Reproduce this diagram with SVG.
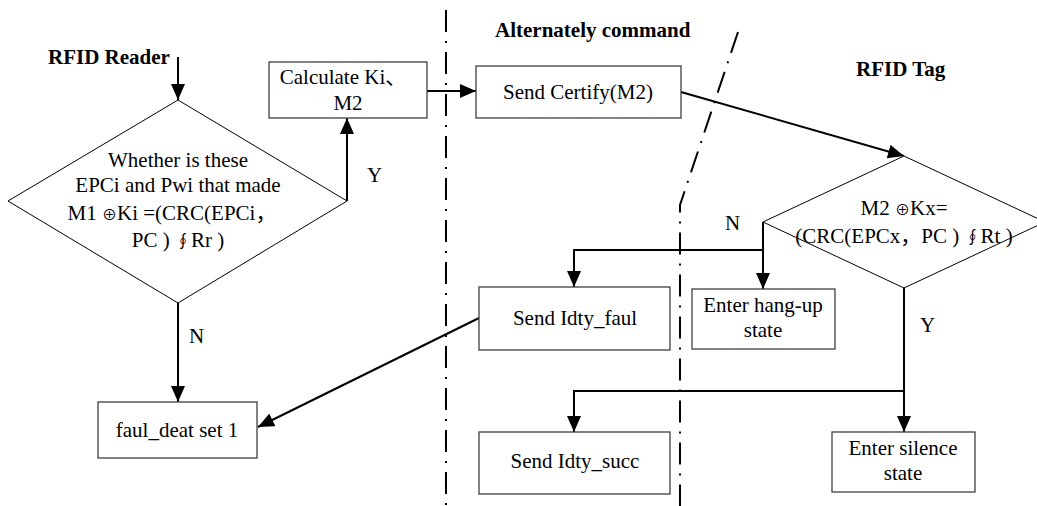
<svg xmlns="http://www.w3.org/2000/svg" width="1037" height="506" viewBox="0 0 1037 506">
<style>
text{font-family:"Liberation Serif","Noto Sans CJK SC",serif;font-size:21px;fill:#000}
.b{font-weight:bold}
.m{text-anchor:middle}
.box{fill:#fff;stroke:#404040;stroke-width:1.3}
.dia{fill:#fff;stroke:#000;stroke-width:1}
.c{fill:none;stroke:#000;stroke-width:2}
.sep{fill:none;stroke:#000;stroke-width:2;stroke-dasharray:22 9 2 9}
</style>
<defs>
<marker id="arr" markerWidth="16" markerHeight="14" refX="16" refY="7" orient="auto" markerUnits="userSpaceOnUse">
<path d="M0,0 L16,7 L0,14 z" fill="#000"/>
</marker>
</defs>
<rect width="1037" height="506" fill="#fff"/>
<g id="separators">
<line class="sep" x1="446" y1="10" x2="446" y2="506"/>
<polyline class="sep" points="738,32 680,205 680,506"/>
</g>
<g id="labels">
<text class="b" x="48" y="64">RFID Reader</text>
<text class="b" x="495" y="37">Alternately command</text>
<text class="b" x="856" y="76">RFID Tag</text>
</g>
<g id="connectors">
<line class="c" x1="178" y1="57" x2="178" y2="100" marker-end="url(#arr)"/>
<line class="c" x1="347" y1="201" x2="347" y2="118" marker-end="url(#arr)"/>
<line class="c" x1="427" y1="91" x2="476" y2="91" marker-end="url(#arr)"/>
<line class="c" x1="681" y1="92" x2="904" y2="156" marker-end="url(#arr)"/>
<line class="c" x1="178" y1="303" x2="178" y2="402" marker-end="url(#arr)"/>
<polyline class="c" points="763,222 763,250 574,250 574,287" marker-end="url(#arr)"/>
<line class="c" x1="763" y1="250" x2="763" y2="289" marker-end="url(#arr)"/>
<line class="c" x1="479" y1="318" x2="258" y2="427" marker-end="url(#arr)"/>
<line class="c" x1="904" y1="288" x2="904" y2="432" marker-end="url(#arr)"/>
<polyline class="c" points="904,391 574,391 574,432" marker-end="url(#arr)"/>
<text x="367" y="182">Y</text>
<text x="189" y="343">N</text>
<text x="725" y="230">N</text>
<text x="920" y="332">Y</text>
</g>
<g id="decision1">
<polygon class="dia" points="178,100 347,201 178,303 8,201"/>
<text class="m" x="178" y="167">Whether is these</text>
<text class="m" x="178" y="192">EPCi and Pwi that made</text>
<text class="m" x="172" y="220">M1 <tspan font-size="15">⊕</tspan>Ki =(CRC(EPCi，</text>
<text class="m" x="178" y="247">PC ) <tspan font-size="16">∮</tspan>Rr )</text>
</g>
<g id="calc">
<rect class="box" x="269" y="62" width="158" height="56"/>
<text class="m" x="343" y="84">Calculate Ki、</text>
<text class="m" x="348" y="110">M2</text>
</g>
<g id="certify">
<rect class="box" x="476" y="66" width="205" height="52"/>
<text class="m" x="578" y="99">Send Certify(M2)</text>
</g>
<g id="decision2">
<polygon class="dia" points="904,156 1045,222 904,288 763,222"/>
<text class="m" x="904" y="215">M2 <tspan font-size="15">⊕</tspan>Kx=</text>
<text class="m" x="904" y="243">(CRC(EPCx，PC ) <tspan font-size="16">∮</tspan>Rt )</text>
</g>
<g id="faul">
<rect class="box" x="479" y="287" width="191" height="63"/>
<text class="m" x="575" y="325">Send Idty_faul</text>
</g>
<g id="hangup">
<rect class="box" x="692" y="289" width="143" height="60"/>
<text class="m" x="763" y="312">Enter hang-up</text>
<text class="m" x="763" y="337">state</text>
</g>
<g id="deat">
<rect class="box" x="98" y="402" width="159" height="56"/>
<text class="m" x="177" y="437">faul_deat set 1</text>
</g>
<g id="succ">
<rect class="box" x="479" y="432" width="191" height="62"/>
<text class="m" x="575" y="468">Send Idty_succ</text>
</g>
<g id="silence">
<rect class="box" x="832" y="432" width="143" height="60"/>
<text class="m" x="903" y="455">Enter silence</text>
<text class="m" x="903" y="480">state</text>
</g>
</svg>
